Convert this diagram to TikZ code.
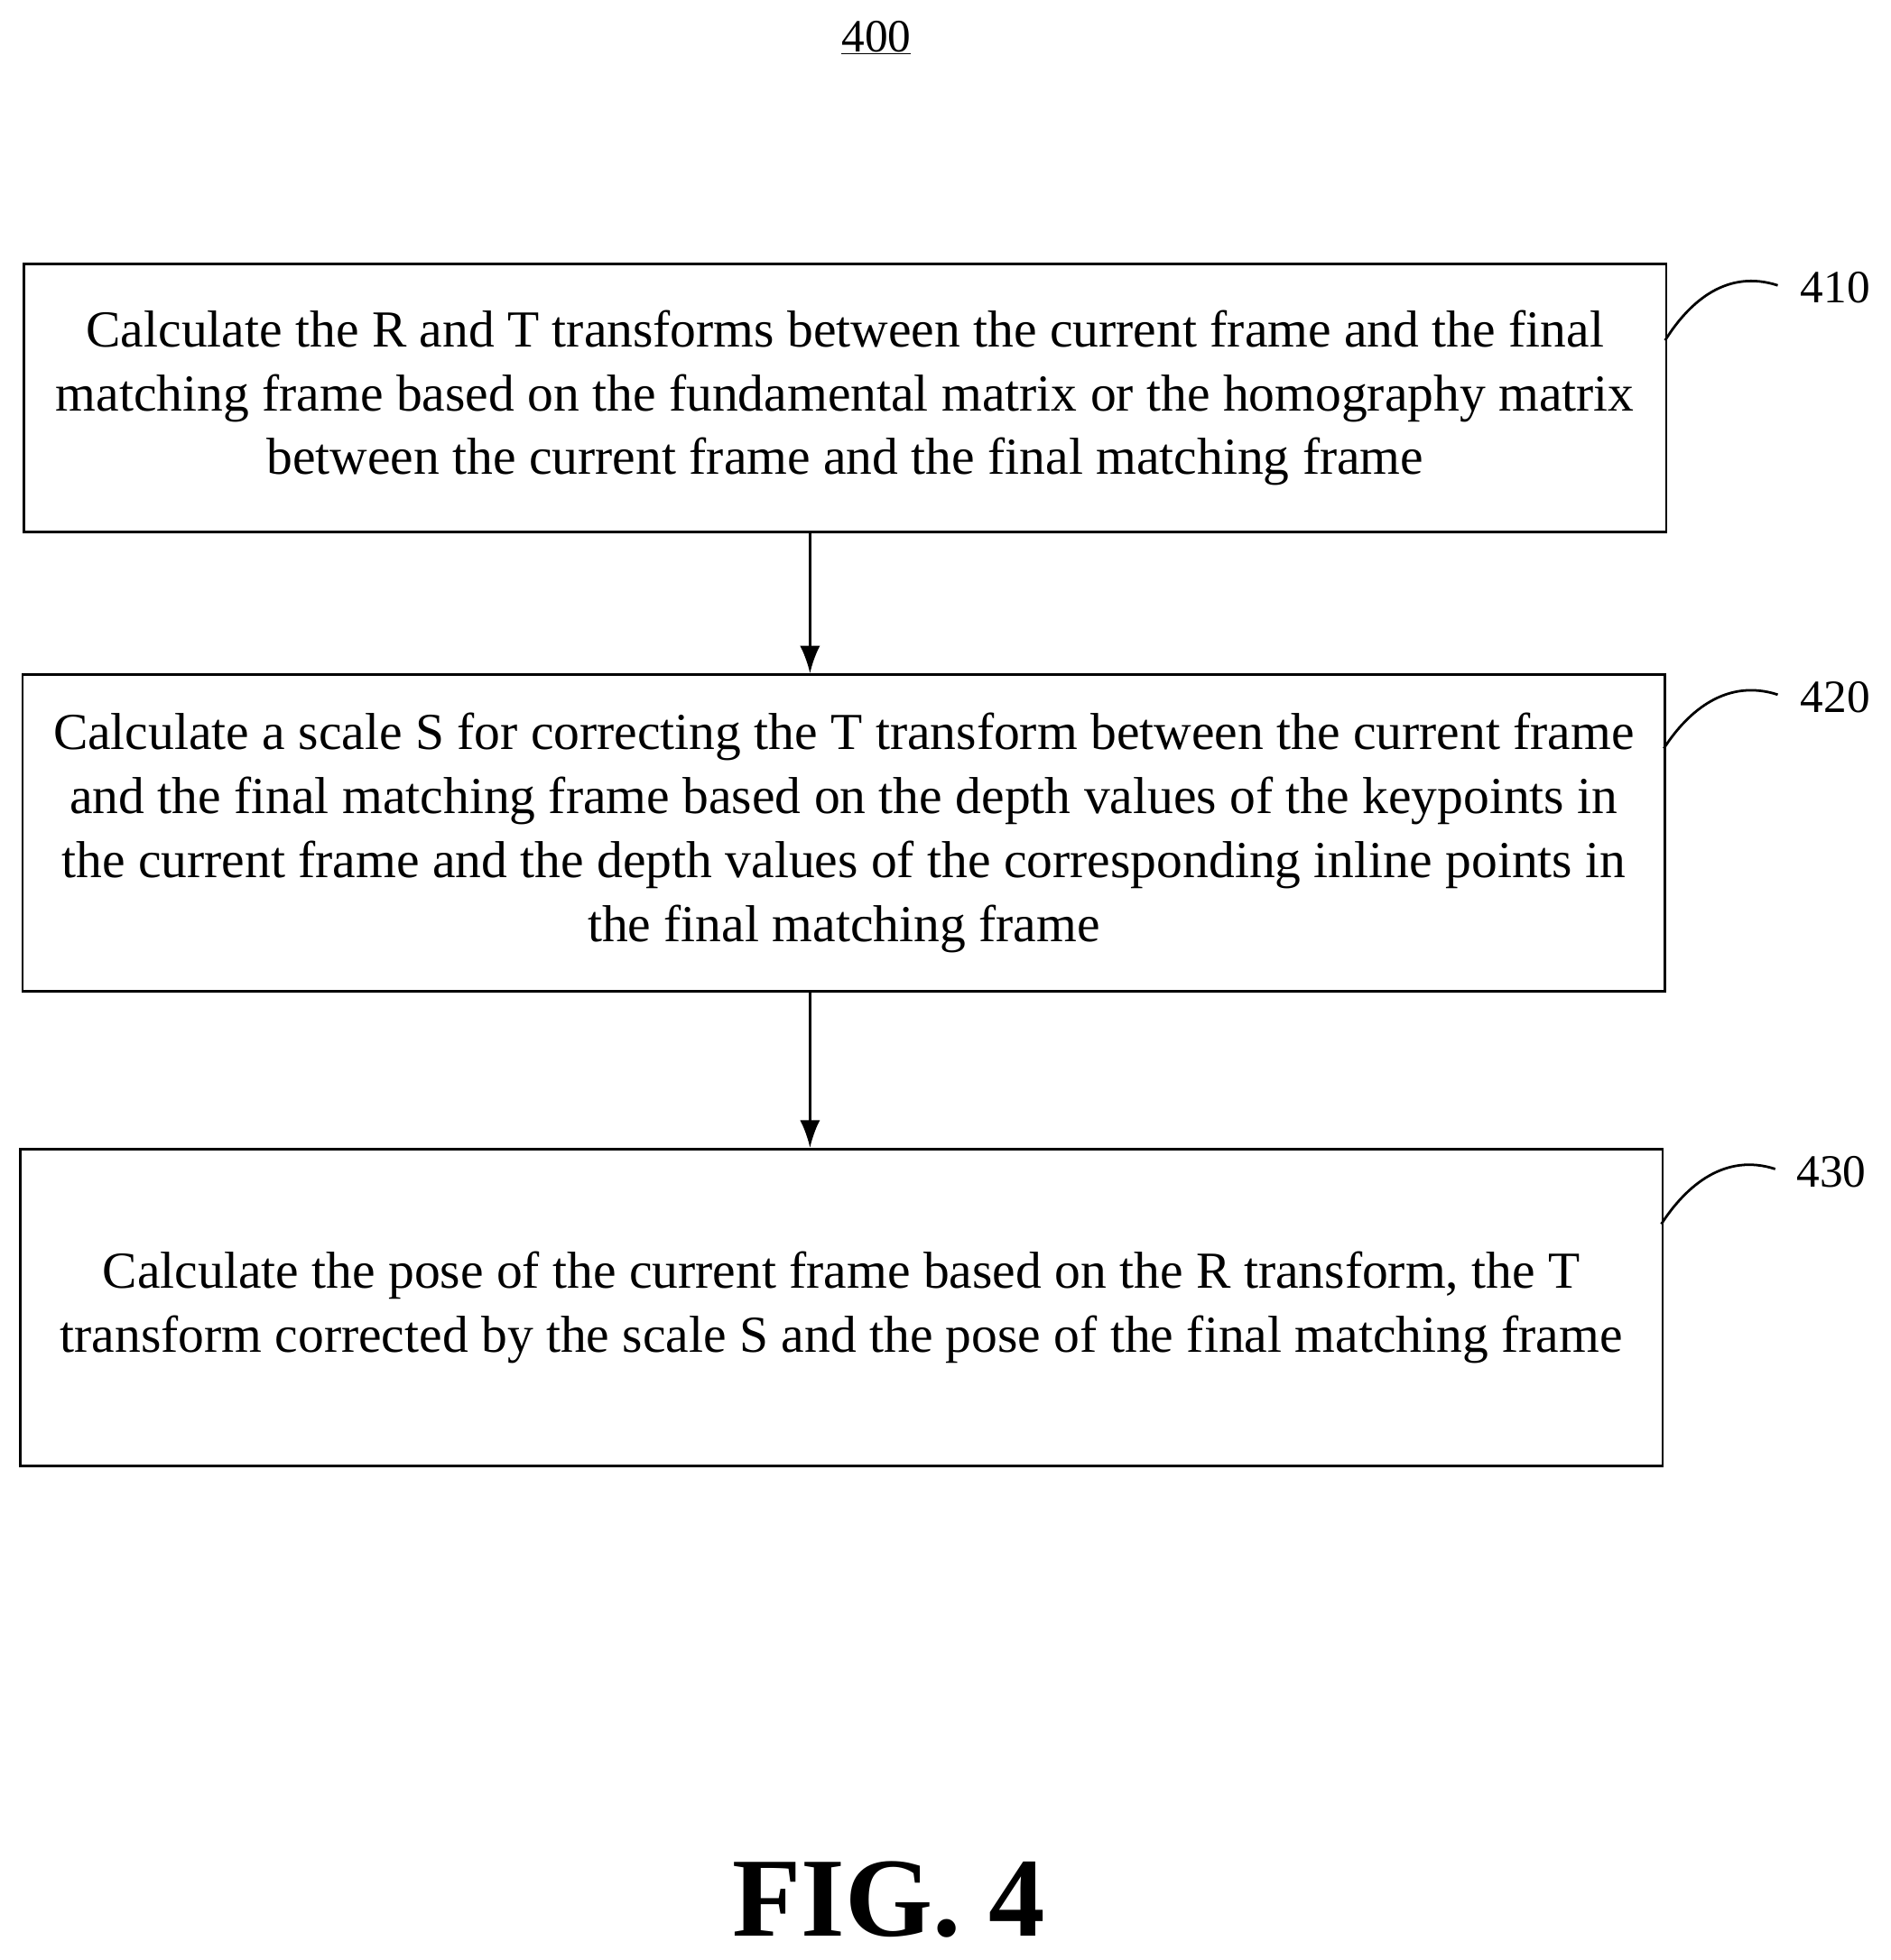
\documentclass[tikz,border=0pt]{standalone}
\usepackage{fontspec}
\setmainfont{Liberation Serif}
\usetikzlibrary{arrows.meta}
\begin{document}
\begin{tikzpicture}[x=1pt,y=-1pt,
  box/.style={draw,line width=2pt,anchor=north west,inner sep=0pt,align=center,font=\fontsize{41.5}{51}\selectfont},
  arr/.style={line width=2pt,-{Latex[length=22pt,width=16pt]}},
  lbl/.style={font=\fontsize{37}{44}\selectfont},
  sq/.style={line width=2pt}]
\useasboundingbox (0,0) rectangle (1510,1566);
\node[font=\fontsize{37}{44}\selectfont] (t) at (700,30) {\underline{400}};
\node[box,minimum width=1312pt,minimum height=214pt] (b1) at (18,210) {Calculate the R and T transforms between the current frame and the final\\matching frame based on the fundamental matrix or the homography matrix\\between the current frame and the final matching frame};
\node[box,minimum width=1312pt,minimum height=253pt] (b2) at (17,538) {Calculate a scale S for correcting the T transform between the current frame\\and the final matching frame based on the depth values of the keypoints in\\the current frame and the depth values of the corresponding inline points in\\the final matching frame};
\node[box,minimum width=1312pt,minimum height=253pt] (b3) at (15,917) {Calculate the pose of the current frame based on the R transform, the T\\transform corrected by the scale S and the pose of the final matching frame};
\draw[arr] (647,424) -- (647,538);
\draw[arr] (647,791) -- (647,917);
\node[lbl] (l1) at (1466,230) {410};
\node[lbl] (l2) at (1466,557) {420};
\node[lbl] (l3) at (1463,936) {430};
\draw[sq] (1330,272) .. controls (1350,240) and (1380,215) .. (1420,228);
\draw[sq] (1329,598) .. controls (1349,567) and (1380,542) .. (1420,555);
\draw[sq] (1327,978) .. controls (1347,947) and (1378,921) .. (1418,934);
\node[font=\bfseries\fontsize{90}{100}\selectfont] (fig) at (710,1518) {FIG. 4};
\end{tikzpicture}
\end{document}
